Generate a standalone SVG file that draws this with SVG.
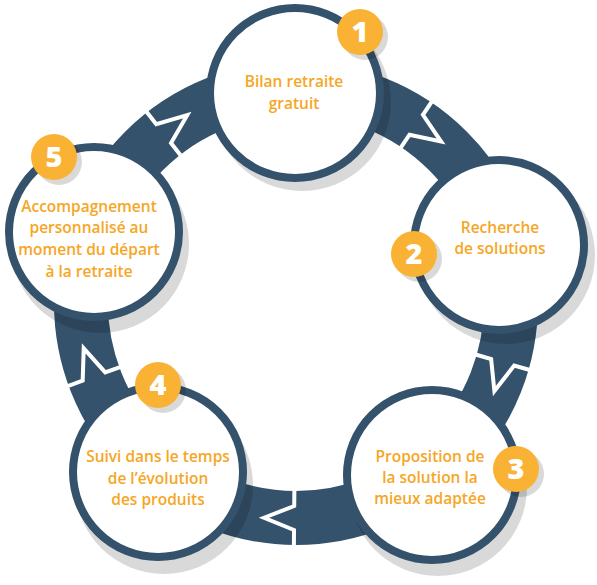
<svg xmlns="http://www.w3.org/2000/svg" width="597" height="585" viewBox="0 0 597 585" xmlns:xlink="http://www.w3.org/1999/xlink">
  <style>
    .ring{fill:#fff;stroke:#34526b;stroke-width:8}
    .shadow{fill:#000;fill-opacity:0.15}
    .badge{fill:#f9b233}
    .bshadow{fill:#000;fill-opacity:0.15}
    .num{font-family:"Open Sans","DejaVu Sans",sans-serif;font-weight:800;font-size:29px;fill:#fff;text-anchor:middle}
    .lbl{font-family:"Open Sans","DejaVu Sans",sans-serif;font-weight:600;font-size:15.5px;fill:#f6a625;text-anchor:middle}
    .chev{fill:none;stroke:#fff;stroke-width:4;stroke-linejoin:miter}
  </style>
  <defs>
    <path id="chevron" class="chev" d="M 245 0 L 227 0 L 215 30 L 203 0 L 185 0"/>
  </defs>

  <g id="connectors">
    <circle cx="296" cy="303" r="215" fill="none" stroke="#34526b" stroke-width="54"/>
    <use xlink:href="#chevron" href="#chevron" transform="translate(296,303) rotate(-56)"/>
    <use xlink:href="#chevron" href="#chevron" transform="translate(296,303) rotate(16)"/>
    <use xlink:href="#chevron" href="#chevron" transform="translate(296,303) rotate(90.5)"/>
    <use xlink:href="#chevron" href="#chevron" transform="translate(296,303) rotate(160)"/>
    <use xlink:href="#chevron" href="#chevron" transform="translate(296,303) rotate(232)"/>
  </g>

  <g id="shadows">
    <circle class="shadow" cx="302" cy="102" r="89"/>
    <circle class="shadow" cx="506" cy="255" r="89"/>
    <circle class="shadow" cx="438" cy="487" r="89"/>
    <circle class="shadow" cx="164" cy="485" r="89"/>
    <circle class="shadow" cx="100" cy="244" r="89"/>
  </g>

  <g id="node1">
    <circle class="ring" cx="295" cy="93" r="85"/>
    <text class="lbl" x="294" y="87">Bilan retraite</text>
    <text class="lbl" x="294" y="109">gratuit</text>
    <circle class="bshadow" cx="365" cy="37" r="23"/>
    <circle class="badge" cx="360" cy="32" r="23"/>
    <text class="num" x="360" y="42">1</text>
  </g>

  <g id="node2">
    <circle class="ring" cx="499" cy="245" r="85"/>
    <text class="lbl" x="500" y="233">Recherche</text>
    <text class="lbl" x="500" y="254">de solutions</text>
    <circle class="bshadow" cx="419" cy="259" r="23"/>
    <circle class="badge" cx="414" cy="254" r="23"/>
    <text class="num" x="414" y="264">2</text>
  </g>

  <g id="node3">
    <circle class="ring" cx="432" cy="475" r="85"/>
    <text class="lbl" x="430" y="462">Proposition de</text>
    <text class="lbl" x="430" y="483">la solution la</text>
    <text class="lbl" x="430" y="504">mieux adaptée</text>
    <circle class="bshadow" cx="521" cy="474" r="23"/>
    <circle class="badge" cx="516" cy="469" r="23"/>
    <text class="num" x="516" y="479">3</text>
  </g>

  <g id="node4">
    <circle class="ring" cx="158" cy="472" r="85"/>
    <text class="lbl" x="158" y="462">Suivi dans le temps</text>
    <text class="lbl" x="158" y="484">de l’évolution</text>
    <text class="lbl" x="158" y="505">des produits</text>
    <circle class="bshadow" cx="163" cy="390" r="23"/>
    <circle class="badge" cx="158" cy="385" r="23"/>
    <text class="num" x="158" y="395">4</text>
  </g>

  <g id="node5">
    <circle class="ring" cx="94" cy="232" r="85"/>
    <text class="lbl" x="89" y="212">Accompagnement</text>
    <text class="lbl" x="89" y="233">personnalisé au</text>
    <text class="lbl" x="89" y="255">moment du départ</text>
    <text class="lbl" x="89" y="277">à la retraite</text>
    <circle class="bshadow" cx="59" cy="162" r="23"/>
    <circle class="badge" cx="54" cy="157" r="23"/>
    <text class="num" x="54" y="167">5</text>
  </g>
</svg>
